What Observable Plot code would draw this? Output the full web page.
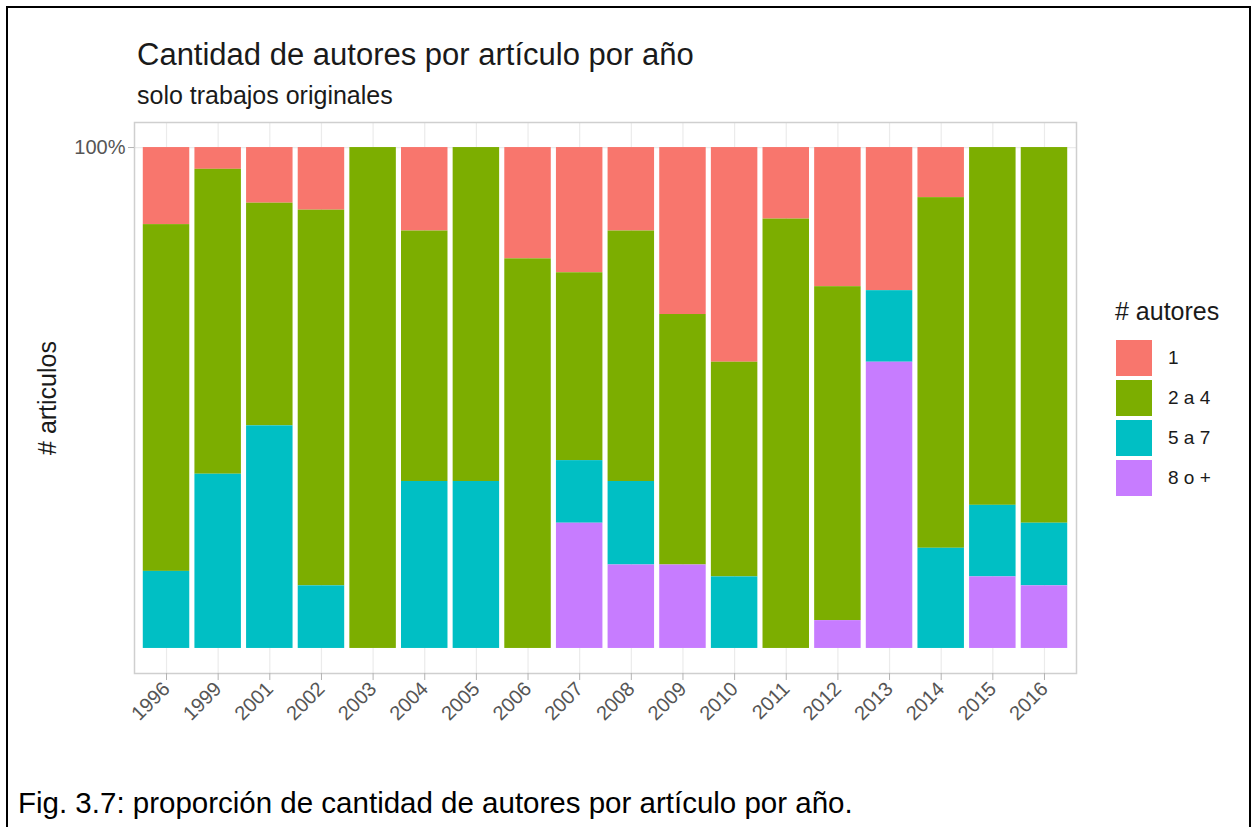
<!DOCTYPE html>
<html>
<head>
<meta charset="utf-8">
<script src="https://cdn.jsdelivr.net/npm/d3@7"></script>
<script src="https://cdn.jsdelivr.net/npm/@observablehq/plot@0.6"></script>
<style>
  body { margin: 0; background: #fff; }
  #wrap { position: relative; width: 1253px; height: 827px; overflow: hidden; font-family: "Liberation Sans", Arial, sans-serif; background: #fff; }
  #border { position: absolute; left: 6px; top: 6px; width: 1245px; height: 840px; border: 2px solid #000; box-sizing: border-box; }
  .txt { position: absolute; white-space: nowrap; color: #000; }
  #title { left: 137px; top: 39px; font-size: 31px; line-height: 31px; color: #1a1a1a; }
  #subtitle { left: 137px; top: 83px; font-size: 25px; line-height: 25px; color: #1a1a1a; }
  #chart { position: absolute; left: 0; top: 110px; }
  #legend { position: absolute; left: 1116px; top: 299px; }
  #legend .lt { font-size: 25px; line-height: 25px; color: #1a1a1a; margin-bottom: 14px; margin-left: -1px; }
  #legend .row { display: flex; align-items: center; height: 40px; }
  #legend .key { width: 36px; height: 36px; margin: 2px 0; }
  #legend .lab { margin-left: 16px; font-size: 19px; color: #1a1a1a; }
  #caption { left: 18px; top: 788px; font-size: 29.5px; line-height: 29.5px; }
</style>
</head>
<body>
<div id="wrap">
  <div id="border"></div>
  <div id="title" class="txt">Cantidad de autores por artículo por año</div>
  <div id="subtitle" class="txt">solo trabajos originales</div>
  <div id="chart"></div>
  <div id="legend"></div>
  <div id="caption" class="txt">Fig. 3.7: proporción de cantidad de autores por artículo por año.</div>
</div>
<script>
// Data: number of articles by author-count category per year
const years = ["1996","1999","2001","2002","2003","2004","2005","2006","2007","2008","2009","2010","2011","2012","2013","2014","2015","2016"];
const categories = ["1", "2 a 4", "5 a 7", "8 o +"];
const colors = ["#F8766D", "#7CAE00", "#00BFC4", "#C77CFF"];
const autores1   = [2, 1, 1, 1, 0, 1, 0, 2, 2, 1, 2, 3, 1, 5, 2, 1, 0, 0];
const autores2a4 = [9, 14, 4, 6, 1, 3, 2, 7, 3, 3, 3, 3, 6, 12, 0, 7, 5, 6];
const autores5a7 = [2, 8, 4, 1, 0, 2, 1, 0, 1, 1, 0, 1, 0, 0, 1, 2, 1, 1];
const autores8   = [0, 0, 0, 0, 0, 0, 0, 0, 2, 1, 1, 0, 0, 1, 4, 0, 1, 1];
const yTicks = [1];
const yTitle = "# articulos";
const legendTitle = "# autores";

const series = [autores1, autores2a4, autores5a7, autores8];
const rows = [];
years.forEach((yr, i) => categories.forEach((c, j) => rows.push({year: yr, cat: c, n: series[j][i]})));

const chart = Plot.plot({
  width: 1090,
  height: 650,
  marginLeft: 134,
  marginRight: 14,
  marginTop: 12,
  marginBottom: 87,
  style: {fontFamily: "'Liberation Sans', Arial, sans-serif", background: "transparent"},
  x: {domain: years, paddingInner: 0.1, paddingOuter: 0.17, round: false, label: null},
  y: {domain: [-0.05, 1.05], label: null},
  color: {domain: categories, range: colors},
  marks: [
    Plot.gridX({stroke: "#ebebeb", strokeOpacity: 1, strokeWidth: 1.2}),
    Plot.gridY(yTicks, {stroke: "#ebebeb", strokeOpacity: 1, strokeWidth: 1.2}),
    Plot.barY(rows, Plot.stackY({offset: "normalize", order: categories.slice().reverse()}, {x: "year", y: "n", fill: "cat", z: "cat"})),
    Plot.frame({stroke: "#cfcfcf", strokeWidth: 1.5}),
    Plot.axisY({ticks: yTicks, tickFormat: d3.format(".0%"), tickSize: 6, tickPadding: 3, fontSize: 20, stroke: "#b3b3b3", fill: "#555555", label: null}),
    Plot.axisX({tickRotate: -45, tickSize: 7, tickPadding: 5, fontSize: 20, stroke: "#b3b3b3", fill: "#555555", label: null}),
    Plot.text([yTitle], {text: d => d, frameAnchor: "left", textAnchor: "middle", rotate: -90, dx: -87, fontSize: 25, fill: "#1a1a1a"})
  ]
});
document.getElementById("chart").appendChild(chart);

// Legend
const legend = document.getElementById("legend");
const lt = document.createElement("div");
lt.className = "lt";
lt.textContent = legendTitle;
legend.appendChild(lt);
categories.forEach((c, i) => {
  const row = document.createElement("div");
  row.className = "row";
  const key = document.createElement("div");
  key.className = "key";
  key.style.background = colors[i];
  const lab = document.createElement("div");
  lab.className = "lab";
  lab.textContent = c;
  row.appendChild(key);
  row.appendChild(lab);
  legend.appendChild(row);
});
</script>
</body>
</html>
